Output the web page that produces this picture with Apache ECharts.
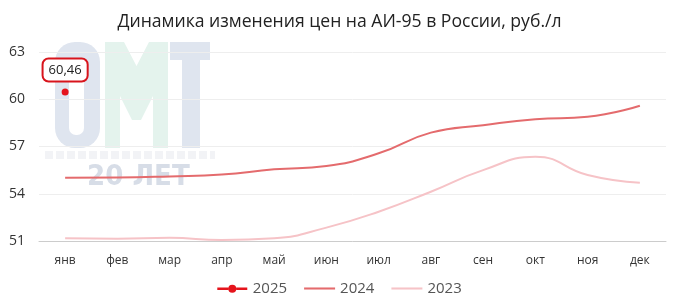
<!DOCTYPE html>
<html><head><meta charset="utf-8">
<script src="https://cdn.jsdelivr.net/npm/echarts@6/dist/echarts.min.js"></script>
<style>html,body{margin:0;padding:0;background:#fff}#c{width:679px;height:303px}</style>
</head><body><div id="c"></div>
<script>
const months = ['янв','фев','мар','апр','май','июн','июл','авг','сен','окт','ноя','дек'];
const y2025 = [60.46];
const y2024 = [55.02,55.03,55.1,55.22,55.55,55.76,56.57,57.88,58.35,58.73,58.89,59.59];
const y2023 = [51.17,51.15,51.2,51.06,51.17,51.85,52.86,54.13,55.5,56.35,55.19,54.7];
const yTicks = [51,54,57,60,63];

const chart = echarts.init(document.getElementById('c'));
const font = '"Open Sans", "Noto Sans", sans-serif';
const lineIcon = 'path://M0,0 L30,0 L30,2 L0,2 Z';
const dotIcon = 'path://M0,6 L11,6 L11,8.4 L0,8.4 Z M19,6 L30,6 L30,8.4 L19,8.4 Z M15,3.2 A4,4 0 1,1 15,11.2 A4,4 0 1,1 15,3.2 Z M0,0 L0.01,0 L0.01,0.01 Z M0,14 L0.01,14 L0.01,14.01 Z';
chart.setOption({
  animation:false,
  title:{text:'Динамика изменения цен на АИ-95 в России, руб./л',left:'center',top:8,
    textStyle:{fontFamily:font,fontSize:17.6,fontWeight:'normal',color:'#222'}},
  graphic:[
    {type:'rect',z:-10,shape:{x:55,y:42,width:45,height:106,r:20},style:{fill:'#dfe5ef'}},
    {type:'rect',z:-9,shape:{x:69,y:72,width:15,height:63,r:7},style:{fill:'#ffffff'}},
    {type:'polygon',z:-10,shape:{points:[[105,148],[105,42],[124,42],[136.5,66],[149,42],[168,42],[168,148],[153,148],[153,96],[141,120],[132,120],[120,96],[120,148]]},style:{fill:'#e4f3ed'}},
    {type:'polygon',z:-10,shape:{points:[[170,42],[210,42],[210,60],[200,60],[200,148],[182,148],[182,60],[170,60]]},style:{fill:'#dfe5ef'}},
    {type:'line',z:-10,shape:{x1:45,y1:155,x2:215,y2:155},style:{stroke:'#f2f3f6',lineWidth:8,lineDash:[8,3]}},
    {type:'text',z:-10,left:87,top:163,style:{text:'20 ЛЕТ',font:'bold 29px "Liberation Sans Narrow", "DejaVu Sans Condensed", sans-serif',fill:'#d7dde7'}}
  ],
  grid:{left:39,right:13,top:52,bottom:62},
  legend:{bottom:2,left:'center',itemGap:17,itemWidth:31,
    textStyle:{fontFamily:font,fontSize:15,color:'#555'},
    data:[{name:'2025',icon:dotIcon},{name:'2024',icon:lineIcon},{name:'2023',icon:lineIcon}]},
  xAxis:{type:'category',data:months,boundaryGap:true,
    axisLine:{lineStyle:{color:'#ccc'}},axisTick:{show:false},
    axisLabel:{fontFamily:font,fontSize:12,color:'#333',margin:14}},
  yAxis:{type:'value',min:51,max:63,interval:3,
    axisLabel:{fontFamily:font,fontSize:14,color:'#333',margin:14,
      formatter:v=>yTicks.includes(v)?String(v):''},
    splitLine:{lineStyle:{color:'#eee'}}},
  series:[
    {name:'2025',type:'line',data:y2025,symbol:'circle',symbolSize:7,showSymbol:true,
      color:'#e5141c',lineStyle:{width:2.5},
      label:{show:true,position:'top',distance:8,fontFamily:font,fontSize:13,color:'#222',
        formatter:p=>String(p.value).replace('.',','),
        backgroundColor:'#fff',borderColor:'#d8141c',borderWidth:2,borderRadius:5,padding:[4,5]}},
    {name:'2024',type:'line',data:y2024,smooth:true,showSymbol:false,symbol:'none',
      color:'#e46b6d',lineStyle:{width:2}},
    {name:'2023',type:'line',data:y2023,smooth:true,showSymbol:false,symbol:'none',
      color:'#f6c3c7',lineStyle:{width:2}}
  ]
});
</script></body></html>
